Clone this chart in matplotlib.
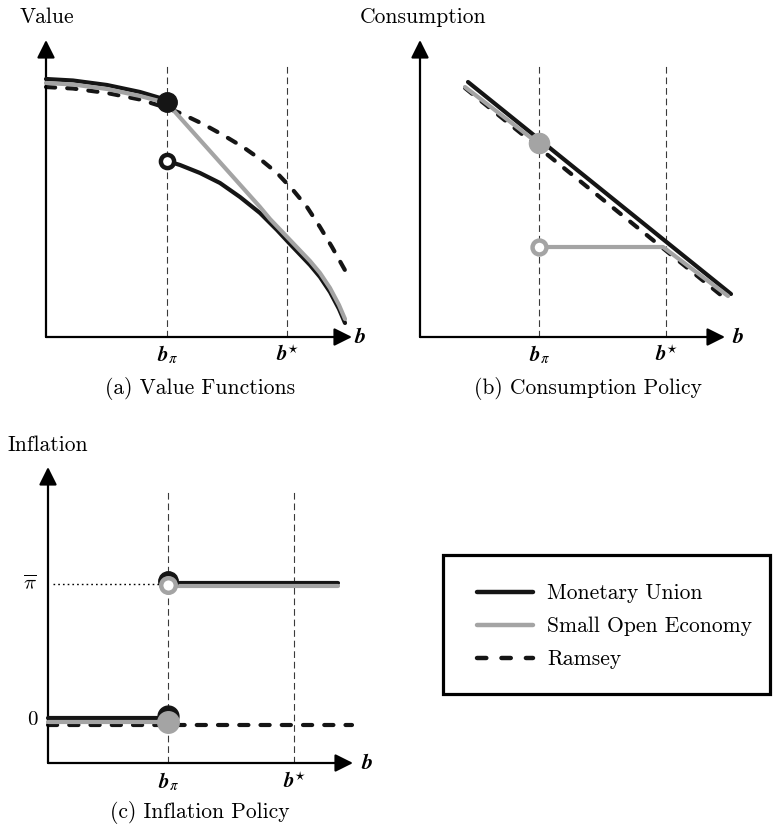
import matplotlib
matplotlib.use('Agg')
import matplotlib.pyplot as plt
from matplotlib.patches import Rectangle
from matplotlib.lines import Line2D

plt.rcParams['font.family'] = 'cmr10'
plt.rcParams['mathtext.fontset'] = 'cm'
plt.rcParams['axes.formatter.use_mathtext'] = True

W, H = 773, 827
BLACK = '#151515'
GREY = '#a4a4a4'

# ---------------- data (units: 100 px of the reference) ----------------
# Panel (a) Value functions
A_BPI, A_BSTAR = 1.21, 2.41
A_MU_L_X = [0.0, 0.27, 0.61, 0.94, 1.21]
A_MU_L_Y = [2.58, 2.565, 2.52, 2.45, 2.37]
A_MU_R_X = [1.21, 1.34, 1.54, 1.74, 1.94, 2.14, 2.31, 2.44, 2.64, 2.74, 2.84, 2.93, 2.99]
A_MU_R_Y = [1.76, 1.72, 1.64, 1.54, 1.40, 1.24, 1.07, 0.93, 0.72, 0.60, 0.45, 0.28, 0.14]
A_SOE_X = [0.0, 0.27, 0.61, 0.94, 1.21, 2.14, 2.24, 2.44, 2.64, 2.74, 2.84, 2.93, 2.99]
A_SOE_Y = [2.54, 2.525, 2.48, 2.41, 2.34, 1.30, 1.18, 0.97, 0.76, 0.64, 0.49, 0.32, 0.18]
A_RAM_X = [0.0, 0.27, 0.61, 0.94, 1.21, 1.34, 1.57, 1.77, 1.97, 2.14, 2.31, 2.47, 2.61,
           2.74, 2.86, 3.00]
A_RAM_Y = [2.50, 2.485, 2.44, 2.375, 2.29, 2.24, 2.13, 2.02, 1.90, 1.78, 1.64, 1.47, 1.30,
           1.10, 0.90, 0.65]
A_DOT_FILLED = (1.21, 2.35)
A_DOT_OPEN = (1.21, 1.76)

# Panel (b) Consumption policy
B_BPI, B_BSTAR = 1.19, 2.46
B_MU_X = [0.48, 3.11]
B_MU_Y = [2.55, 0.43]
B_SOE_U_X = [0.45, 1.19]
B_SOE_U_Y = [2.50, 1.93]
B_SOE_L_X = [1.19, 2.43, 3.08]
B_SOE_L_Y = [0.90, 0.90, 0.41]
B_RAM_X = [0.45, 3.07]
B_RAM_Y = [2.49, 0.37]
B_DOT_FILLED = (1.19, 1.94)
B_DOT_OPEN = (1.19, 0.90)

# Panel (c) Inflation policy
C_BPI, C_BSTAR = 1.20, 2.46
C_PIBAR = 1.79
C_ZERO = 0.43
C_MU_L_X, C_MU_L_Y = [0.0, 1.20], [0.45, 0.45]
C_MU_U_X, C_MU_U_Y = [1.20, 2.90], [1.80, 1.80]
C_SOE_L_X, C_SOE_L_Y = [0.0, 1.20], [0.41, 0.41]
C_SOE_U_X, C_SOE_U_Y = [1.20, 2.90], [1.77, 1.77]
C_RAM_X, C_RAM_Y = [0.0, 3.04], [0.38, 0.38]

LEGEND_LABELS = ['Monetary Union', 'Small Open Economy', 'Ramsey']

# ---------------- figure ----------------
fig = plt.figure(figsize=(W / 100, H / 100), dpi=100)

LW = 3.0
DASH = (2.2, 2.9)


def panel(ox, oy):
    ax = fig.add_axes([ox / W, (H - oy) / H, 320 / W, 310 / H])
    ax.set_xlim(0, 3.2)
    ax.set_ylim(0, 3.1)
    ax.axis('off')
    return ax


def arrows(ax, xtip, ytip):
    style = '-|>,head_length=0.6,head_width=0.3'
    for tip in [(xtip, 0), (0, ytip)]:
        ax.annotate('', xy=tip, xytext=(0, 0),
                    arrowprops=dict(arrowstyle=style, mutation_scale=18, lw=1.6,
                                    color='black', shrinkA=0, shrinkB=0),
                    annotation_clip=False)


def guides(ax, bpi, bstar, top):
    for xv in (bpi, bstar):
        ax.plot([xv, xv], [0, top], color='#3a3a3a', lw=0.8, dashes=(6, 3.5), zorder=1)


def ticklabels(ax, bpi, bstar, xb, dy):
    ax.text(bpi, dy, r'$\mathbfit{b}_{\pi}$', ha='center', va='center', fontsize=15,
            math_fontfamily='stix')
    ax.text(bstar, dy, r'$\mathbfit{b}^{\star}$', ha='center', va='center', fontsize=15,
            math_fontfamily='stix')
    ax.text(xb, 0.0, r'$\mathbfit{b}$', ha='center', va='center', fontsize=16,
            math_fontfamily='stix')


def line(ax, x, y, color, dashed=False, z=3):
    kw = dict(color=color, lw=LW, solid_capstyle='round', solid_joinstyle='round',
              clip_on=False, zorder=z)
    if dashed:
        kw.update(dashes=DASH, dash_capstyle='round')
    ax.plot(x, y, **kw)


def dot(ax, p, color, filled=True, ms=14, z=6):
    if filled:
        ax.plot([p[0]], [p[1]], 'o', ms=ms, color=color, mec=color, zorder=z, clip_on=False)
    else:
        ax.plot([p[0]], [p[1]], 'o', ms=ms, mfc='white', mec=color, mew=3.2, zorder=z,
                clip_on=False)


# ---- (a)
axa = panel(46, 337)
arrows(axa, 3.06, 2.97)
guides(axa, A_BPI, A_BSTAR, 2.72)
line(axa, A_RAM_X, A_RAM_Y, BLACK, dashed=True, z=2)
line(axa, A_MU_L_X, A_MU_L_Y, BLACK, z=3)
line(axa, A_MU_R_X, A_MU_R_Y, BLACK, z=3)
line(axa, A_SOE_X, A_SOE_Y, GREY, z=4)
dot(axa, A_DOT_FILLED, BLACK, True, ms=14)
dot(axa, A_DOT_OPEN, BLACK, False, ms=9.5)
ticklabels(axa, A_BPI, A_BSTAR, 3.14, -0.18)

# ---- (b)
axb = panel(420, 337)
arrows(axb, 3.05, 2.97)
guides(axb, B_BPI, B_BSTAR, 2.72)
line(axb, B_RAM_X, B_RAM_Y, BLACK, dashed=True, z=2)
line(axb, B_MU_X, B_MU_Y, BLACK, z=3)
line(axb, B_SOE_U_X, B_SOE_U_Y, GREY, z=4)
line(axb, B_SOE_L_X, B_SOE_L_Y, GREY, z=4)
dot(axb, B_DOT_FILLED, GREY, True, ms=14.5)
dot(axb, B_DOT_OPEN, GREY, False, ms=10)
ticklabels(axb, B_BPI, B_BSTAR, 3.18, -0.18)

# ---- (c)
axc = panel(48, 763)
arrows(axc, 3.05, 2.96)
guides(axc, C_BPI, C_BSTAR, 2.71)
axc.plot([0.05, C_BPI], [C_PIBAR, C_PIBAR], color='black', lw=1.0, dashes=(1.2, 2.2), zorder=1)
line(axc, C_RAM_X, C_RAM_Y, BLACK, dashed=True, z=2)
line(axc, C_MU_L_X, C_MU_L_Y, BLACK, z=3)
line(axc, C_MU_U_X, C_MU_U_Y, BLACK, z=3)
line(axc, C_SOE_L_X, C_SOE_L_Y, GREY, z=4)
line(axc, C_SOE_U_X, C_SOE_U_Y, GREY, z=4)
dot(axc, (C_BPI, 1.82), BLACK, True, ms=14, z=5)
dot(axc, (C_BPI, 1.78), GREY, False, ms=10.5, z=6)
dot(axc, (C_BPI, 0.47), BLACK, True, ms=15, z=5)
dot(axc, (C_BPI, 0.41), GREY, True, ms=15.5, z=6)
ticklabels(axc, C_BPI, C_BSTAR, 3.19, -0.19)
axc.text(-0.18, C_PIBAR, r'$\overline{\pi}$', ha='center', va='center', fontsize=15)
axc.text(-0.16, C_ZERO, '0', ha='center', va='center', fontsize=15)

# ---- titles and axis names
FS = 15.5


def ftext(x, y, s, ha='left'):
    fig.text(x / W, 1 - y / H, s, ha=ha, va='center', fontsize=FS)


ftext(20, 17, 'Value')
ftext(360, 17, 'Consumption')
ftext(7, 445, 'Inflation')
ftext(200, 388, '(a) Value Functions', ha='center')
ftext(588, 388, '(b) Consumption Policy', ha='center')
ftext(200, 813, '(c) Inflation Policy', ha='center')

# ---- legend
fig.add_artist(Rectangle((443 / W, 1 - 694 / H), (770 - 443) / W, (694 - 555) / H,
                         fill=False, lw=2.3, edgecolor='black', transform=fig.transFigure))
rows = [592, 625, 658]
styles = [dict(color=BLACK), dict(color=GREY), dict(color=BLACK, dashes=(2.1, 3.4), dash_capstyle='round')]
for yrow, lab, st in zip(rows, LEGEND_LABELS, styles):
    fig.add_artist(Line2D([477 / W, 533 / W], [1 - yrow / H] * 2, lw=3.2,
                          solid_capstyle='round', transform=fig.transFigure, **st))
    fig.text(547 / W, 1 - (yrow + 1) / H, lab, ha='left', va='center', fontsize=FS)

fig.savefig('out.png', dpi=100)
